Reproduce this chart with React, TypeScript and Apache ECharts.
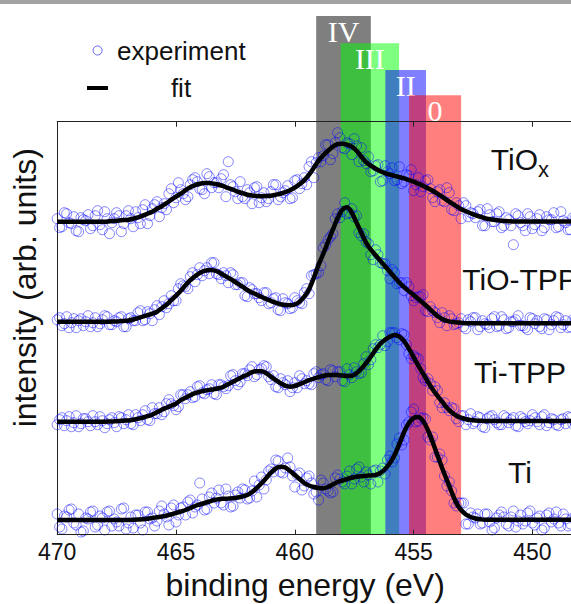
import React, { useEffect, useRef } from 'react';
import * as echarts from 'echarts';

// binding energies of the measured points (eV), two interleaved sweeps
const ENERGY_A = [
  470, 469.8, 469.6, 469.4, 469.2, 469, 468.8, 468.6, 468.4, 468.2,
  468, 467.8, 467.6, 467.4, 467.2, 467, 466.8, 466.6, 466.4, 466.2,
  466, 465.8, 465.6, 465.4, 465.2, 465, 464.8, 464.6, 464.4, 464.2,
  464, 463.8, 463.6, 463.4, 463.2, 463, 462.8, 462.6, 462.4, 462.2,
  462, 461.8, 461.6, 461.4, 461.2, 461, 460.8, 460.6, 460.4, 460.2,
  460, 459.8, 459.6, 459.4, 459.2, 459, 458.8, 458.6, 458.4, 458.2,
  458, 457.8, 457.6, 457.4, 457.2, 457, 456.8, 456.6, 456.4, 456.2,
  456, 455.8, 455.6, 455.4, 455.2, 455, 454.8, 454.6, 454.4, 454.2,
  454, 453.8, 453.6, 453.4, 453.2, 453, 452.8, 452.6, 452.4, 452.2,
  452, 451.8, 451.6, 451.4, 451.2, 451, 450.8, 450.6, 450.4, 450.2,
  450, 449.8, 449.6, 449.4, 449.2, 449, 448.8, 448.6, 448.4, 448.2,
];
const ENERGY_B = [
  469.9, 469.7, 469.5, 469.3, 469.1, 468.9, 468.7, 468.5, 468.3, 468.1,
  467.9, 467.7, 467.5, 467.3, 467.1, 466.9, 466.7, 466.5, 466.3, 466.1,
  465.9, 465.7, 465.5, 465.3, 465.1, 464.9, 464.7, 464.5, 464.3, 464.1,
  463.9, 463.7, 463.5, 463.3, 463.1, 462.9, 462.7, 462.5, 462.3, 462.1,
  461.9, 461.7, 461.5, 461.3, 461.1, 460.9, 460.7, 460.5, 460.3, 460.1,
  459.9, 459.7, 459.5, 459.3, 459.1, 458.9, 458.7, 458.5, 458.3, 458.1,
  457.9, 457.7, 457.5, 457.3, 457.1, 456.9, 456.7, 456.5, 456.3, 456.1,
  455.9, 455.7, 455.5, 455.3, 455.1, 454.9, 454.7, 454.5, 454.3, 454.1,
  453.9, 453.7, 453.5, 453.3, 453.1, 452.9, 452.7, 452.5, 452.3, 452.1,
  451.9, 451.7, 451.5, 451.3, 451.1, 450.9, 450.7, 450.5, 450.3, 450.1,
  449.9, 449.7, 449.5, 449.3, 449.1, 448.9, 448.7, 448.5, 448.3, 448.1,
];

// TiOx
const EXP_TIOX_A = [
  3, -5, 8, -2, -9, 4, 1, -7, 6, -3,
  10, -12, 3, 6, -2, 11, -5, 4, 12, -2,
  13, 20, 14, 12, 33, 24, 32, 22, 37, 44,
  33, 28, 45, 39, 34, 47, 60, 35, 23, 25,
  32, 18, 35, 24, 20, 30, 37, 25, 31, 23,
  41, 33, 44, 55, 44, 64, 66, 77, 68, 89,
  74, 79, 67, 76, 74, 58, 50, 56, 40, 56,
  48, 41, 55, 40, 46, 31, 44, 35, 42, 24,
  30, 21, 34, 12, 19, 3, 16, 9, 4, 12,
  -4, 7, 0, 10, -4, 2, -23, 6, -4, 8,
  -7, 3, -9, 5, 2, -6, 10, -1, -8, 4,
];
const EXP_TIOX_B = [
  -6, 9, -1, 5, -10, 2, 7, -4, 11, -8,
  3, -1, 9, -10, 6, 3, 10, -2, 17, 6,
  17, 5, 18, 28, 19, 39, 28, 25, 42, 40,
  32, 48, 34, 39, 43, 25, 37, 30, 40, 23,
  29, 34, 19, 29, 23, 37, 22, 29, 36, 24,
  42, 38, 37, 60, 59, 60, 77, 62, 79, 84,
  73, 78, 83, 60, 61, 65, 51, 57, 41, 50,
  54, 42, 38, 47, 52, 37, 30, 41, 33, 20,
  32, 20, 29, 11, 16, 19, 5, 8, 10, -4,
  13, 0, 8, -6, 4, -4, 8, -1, -9, 5,
  -3, 7, -6, 2, 9, -5, 1, -8, 4, -2,
];
const FIT_TIOX = [
  0, 0, 0, 0, 0, 0, 0, 0, 0, 0,
  0, 0.5, 0.8, 1.2, 1.6, 2, 3, 4.3, 6, 8,
  10, 13, 15.5, 18.5, 22, 25, 28, 31.5, 34.5, 36.5,
  38, 38.6, 38.6, 38, 37, 35.5, 33.5, 32, 30, 28.5,
  27, 26.3, 25.8, 25.5, 25.6, 26, 27, 28, 29.5, 31.5,
  34, 37.5, 41.5, 47, 54, 61, 66.5, 71, 75, 77.5,
  78, 77, 75, 71, 65, 59.5, 56, 53, 50.5, 48.5,
  47, 45.8, 44.6, 43.3, 41.7, 40, 38, 36, 33.5, 31,
  28, 25, 21.5, 18.5, 15.5, 12.5, 10.5, 8.5, 6.5, 5,
  3.5, 2.5, 1.8, 1.2, 0.8, 0.5, 0.3, 0.3, 0.3, 0.3,
  0.3, 0.3, 0.3, 0.3, 0.3, 0.3, 0.3, 0.3, 0.3, 0.3,
];

// TiO-TPP
const EXP_TIOTPP_A = [
  2, -4, 5, -1, -6, 3, 0, -5, 4, -2,
  6, -3, 1, 4, -5, 3, 1, 9, 1, 10,
  1, 16, 15, 14, 26, 21, 38, 35, 45, 40,
  54, 51, 48, 59, 47, 49, 39, 47, 37, 39,
  25, 32, 28, 21, 29, 19, 24, 11, 19, 13,
  24, 19, 29, 28, 47, 49, 74, 82, 88, 108,
  110, 108, 113, 106, 86, 80, 67, 72, 59, 58,
  43, 49, 39, 31, 35, 21, 25, 27, 10, 11,
  4, 9, -4, 3, -2, 3, -7, 0, 4, -5,
  -2, -6, 5, -4, 2, -6, 0, 6, -4, -8,
  3, 1, -7, 2, -3, 5, -6, 1, -5, 2,
];
const EXP_TIOTPP_B = [
  4, -2, -6, 3, 1, -4, 6, -1, -5, 2,
  5, -3, 0, 5, -5, 4, 1, 11, 2, 8,
  12, 7, 21, 18, 21, 33, 36, 33, 49, 47,
  46, 54, 59, 48, 43, 46, 49, 37, 39, 26,
  34, 28, 24, 29, 18, 23, 12, 23, 18, 14,
  21, 18, 33, 46, 48, 56, 77, 85, 103, 104,
  119, 109, 105, 89, 88, 78, 62, 67, 58, 51,
  52, 38, 39, 39, 26, 24, 25, 11, 15, 9,
  -1, 4, 6, -3, -1, -5, 2, 4, -8, 1,
  -3, 3, -5, 5, -7, 0, 2, -4, -6, 4,
  -2, -5, 3, -8, 1, 4, -3, -6, 2, -4,
];
const FIT_TIOTPP = [
  0, 0, 0, 0, 0, 0, 0, 0, 0, 0,
  0, 0, 0.1, 0.4, 0.8, 1.2, 2.2, 3.6, 5, 6.5,
  8, 10, 13.5, 17, 21.5, 26, 31, 36.5, 41.5, 45.5,
  48.7, 50.8, 51.7, 51.3, 49.5, 46.7, 44, 41.2, 38, 35,
  31.7, 29.2, 27, 24.7, 22.7, 20.7, 19, 17.4, 16.6, 16.5,
  17.2, 20, 25, 32.5, 44, 56.7, 68, 80, 92, 103.5,
  112, 114.5, 109, 99, 89, 79, 72, 66.5, 61, 55.5,
  50, 44.5, 39.2, 34.5, 30.5, 26.7, 22.7, 18.7, 14.5, 10,
  5.7, 2.8, 0.8, -0.2, -0.8, -1, -1.5, -1.5, -1.5, -1.5,
  -1.5, -1.5, -1.5, -1.5, -1.5, -1.5, -1.5, -1.5, -1.5, -1.5,
  -1.5, -1.5, -1.5, -1.5, -1.5, -1.5, -1.5, -1.5, -1.5, -1.5,
];

// Ti-TPP
const EXP_TITPP_A = [
  -3, 4, 1, -5, 6, -2, 3, -4, 0, 5,
  -6, 2, -1, 5, -2, 7, -3, 4, 7, 2,
  14, 8, 7, 18, 18, 12, 27, 23, 30, 25,
  36, 28, 33, 28, 37, 35, 36, 47, 37, 48,
  46, 55, 47, 53, 55, 42, 35, 43, 37, 30,
  39, 46, 38, 38, 48, 44, 48, 41, 51, 50,
  41, 53, 44, 50, 49, 65, 62, 77, 77, 76,
  89, 89, 82, 87, 68, 66, 63, 44, 43, 31,
  31, 14, 14, 14, 3, 6, -3, 8, 0, 4,
  -6, 5, 2, -3, 6, -1, 4, -5, 3, -2,
  7, 0, 5, -4, 3, -3, 2, -2, 4, -1,
];
const EXP_TITPP_B = [
  2, -4, 5, -1, -5, 3, 0, 6, -3, 1,
  -2, 4, -5, 4, 2, -2, 7, 1, 11, 1,
  8, 14, 10, 22, 16, 15, 27, 27, 24, 35,
  29, 32, 37, 27, 37, 33, 46, 41, 40, 48,
  52, 45, 52, 56, 45, 46, 34, 39, 41, 34,
  34, 43, 41, 37, 50, 47, 42, 52, 45, 50,
  40, 47, 54, 48, 58, 57, 73, 74, 86, 80,
  89, 84, 88, 77, 63, 64, 53, 41, 38, 35,
  19, 19, 11, 13, 0, 6, 2, -2, 5, -5,
  3, 6, -1, -3, 4, 2, -4, 5, 0, 1,
  4, -3, 7, -1, 2, -4, 3, 5, -2, 2,
];
const FIT_TITPP = [
  0, 0, 0, 0, 0, 0, 0, 0, 0, 0,
  0, 0.2, 0.4, 0.7, 1, 1.3, 2, 2.9, 4, 5.5,
  7, 9.5, 12, 14, 16, 18, 21.5, 24, 26.5, 28.5,
  30, 31, 31.8, 32.5, 33.4, 35, 37.5, 40, 42.5, 45,
  47, 49.5, 50.5, 50.5, 48.5, 45, 41.5, 38.5, 36, 35,
  35.7, 37.5, 39.5, 41.5, 43, 44.5, 45.8, 46.7, 46.8, 46.7,
  46.3, 45.7, 46, 48.5, 53, 58.5, 65, 72, 78, 82,
  85, 86.7, 85, 80.5, 73, 64.5, 56, 48, 40, 32.5,
  26, 20, 14, 9.5, 6, 4, 2.5, 1.7, 1.2, 1,
  0.8, 0.8, 0.8, 0.8, 0.8, 0.8, 0.8, 0.8, 0.8, 0.8,
  0.8, 0.8, 0.8, 0.8, 0.8, 0.8, 0.8, 0.8, 0.8, 0.8,
];

// Ti
const EXP_TI_A = [
  6, -9, 3, 11, -5, -12, 2, 8, -7, 4,
  -10, 9, 1, -6, 12, -3, -8, 5, -10, 8,
  2, -1, 14, 3, 12, -2, 12, 5, 20, 13,
  37, 10, 23, 17, 30, 15, 24, 14, 28, 31,
  21, 29, 23, 43, 40, 51, 60, 48, 52, 53,
  33, 47, 34, 44, 26, 20, 37, 29, 28, 45,
  38, 44, 36, 51, 43, 48, 36, 50, 49, 46,
  64, 62, 82, 80, 98, 111, 99, 102, 83, 83,
  63, 60, 34, 29, 14, 17, -4, 7, 2, -4,
  6, -2, -8, 5, 3, -6, 9, -1, -4, 7,
  -3, 2, -10, 5, -2, 8, -6, 1, -4, 3,
];
const EXP_TI_B = [
  -7, 4, 10, -3, 6, -11, 1, 9, -5, 2,
  8, -6, -2, 11, -9, 3, 5, -3, 8, 1,
  -6, 9, 6, -5, 15, 5, 13, 18, 7, 15,
  21, 11, 27, 22, 17, 31, 13, 25, 22, 30,
  22, 39, 35, 31, 49, 48, 59, 47, 62, 44,
  45, 30, 42, 37, 28, 40, 31, 27, 42, 41,
  36, 49, 41, 53, 38, 45, 49, 38, 52, 60,
  58, 76, 75, 95, 108, 98, 102, 101, 80, 63,
  66, 44, 38, 17, 17, 17, -4, 3, 6, -3,
  6, -10, 2, 8, -4, 3, -7, 5, -1, 9,
  -5, 4, -8, 7, 1, -3, 6, -6, 2, -2,
];
const FIT_TI = [
  0, 0, 0, 0, 0, 0, 0, 0, 0, 0,
  0, 0, 0, 0, 0, 0, 0.2, 0.4, 0.8, 1.3,
  2, 2.8, 3.5, 4.5, 5.5, 7, 8.5, 10, 12, 14,
  15.5, 17, 18.5, 20, 20.8, 21.2, 21.5, 21.8, 22.5, 23.5,
  25, 28, 32, 36.7, 42, 47.5, 51.5, 53.3, 52.5, 49,
  45, 41, 37, 34.5, 33, 32, 31.7, 33, 35.5, 38,
  39.5, 41, 42.3, 43.3, 43.8, 44.2, 44.6, 45, 47, 51,
  56.7, 65, 76, 88, 97, 102, 103, 99, 90, 78,
  65, 52, 40, 28, 17, 10, 5.5, 3, 1.5, 0.7,
  0.2, 0.2, 0.2, 0.2, 0.2, 0.2, 0.2, 0.2, 0.2, 0.2,
  0.2, 0.2, 0.2, 0.2, 0.2, 0.2, 0.2, 0.2, 0.2, 0.2,
];

// vertical offsets of the stacked spectra (arb. units)
const SPECTRA = ['TiOx', 'TiO-TPP', 'Ti-TPP', 'Ti'];
const OFFSETS = [313, 213, 113, 14.7];
const LABEL_MAIN = ['TiO', 'TiO-TPP', 'Ti-TPP', 'Ti'];
const LABEL_SUB = ['x', '', '', ''];
const LABEL_ENERGY = 450.52;
const LABEL_LEVEL = [375.4, 255.4, 162.1, 62.1];

// oxidation state bands (eV)
const BAND_NAMES = ['IV', 'III', 'II', '0'];
const BAND_START = [459.1, 458.07, 456.19, 455.19];
const BAND_END = [456.8, 455.61, 454.48, 453.0];
const BAND_TOP = [518.7, 491.4, 464.7, 439.4];
const BAND_COLORS = ['rgba(0,0,0,0.5)', 'rgba(0,255,0,0.5)', 'rgba(0,0,255,0.5)', 'rgba(255,0,0,0.5)'];

const X_MIN = 445;
const X_MAX = 470;
const X_STEP = 5;
const Y_MIN = 0;
const Y_MAX = 413;

const SANS = '"Liberation Sans", Arial, sans-serif';
const SERIF = '"Liberation Serif", "Times New Roman", serif';

export default function App() {
  const ref = useRef<HTMLDivElement>(null);

  useEffect(() => {
    if (!ref.current) return;
    const chart = echarts.init(ref.current, null, { renderer: 'svg' });

    const spectra = [
      { expA: EXP_TIOX_A, expB: EXP_TIOX_B, fit: FIT_TIOX },
      { expA: EXP_TIOTPP_A, expB: EXP_TIOTPP_B, fit: FIT_TIOTPP },
      { expA: EXP_TITPP_A, expB: EXP_TITPP_B, fit: FIT_TITPP },
      { expA: EXP_TI_A, expB: EXP_TI_B, fit: FIT_TI },
    ];

    const series: any[] = [];

    series.push({
      type: 'custom',
      name: 'bands',
      silent: true,
      clip: false,
      z: 1,
      encode: { x: [0, 1], y: 2 },
      data: BAND_NAMES.map((n, i) => [BAND_START[i], BAND_END[i], BAND_TOP[i], i]),
      renderItem: (params: any, api: any) => {
        const idx = api.value(3);
        const p1 = api.coord([api.value(0), Y_MIN]);
        const p2 = api.coord([api.value(1), api.value(2)]);
        const x = Math.min(p1[0], p2[0]);
        const w = Math.abs(p2[0] - p1[0]);
        const y = p2[1];
        const h = p1[1] - p2[1];
        return {
          type: 'group',
          children: [
            { type: 'rect', shape: { x, y, width: w, height: h }, style: { fill: BAND_COLORS[idx] } },
            {
              type: 'text',
              style: {
                text: BAND_NAMES[idx],
                x: x + w / 2,
                y: y + 15,
                align: 'center',
                verticalAlign: 'middle',
                fill: '#ffffff',
                fontSize: 30,
                fontFamily: SERIF,
              },
            },
          ],
        };
      },
    });

    spectra.forEach((s, i) => {
      const pts = ENERGY_A.map((e, k) => [e, OFFSETS[i] + s.expA[k]]).concat(
        ENERGY_B.map((e, k) => [e, OFFSETS[i] + s.expB[k]])
      );
      series.push({
        type: 'scatter',
        name: 'experiment',
        silent: true,
        z: 3,
        symbol: 'circle',
        symbolSize: 10,
        itemStyle: { color: 'rgba(0,0,0,0)', borderColor: 'rgba(0,0,255,0.6)', borderWidth: 1 },
        data: pts,
      });
    });
    spectra.forEach((s, i) => {
      series.push({
        type: 'line',
        name: 'fit',
        silent: true,
        z: 4,
        showSymbol: false,
        smooth: 0.3,
        lineStyle: { color: '#000000', width: 4.5 },
        data: ENERGY_A.map((e, k) => [e, OFFSETS[i] + s.fit[k]]),
      });
    });

    series.push({
      type: 'custom',
      name: 'labels',
      silent: true,
      clip: false,
      z: 5,
      encode: { x: 0, y: 1 },
      data: SPECTRA.map((n, i) => [LABEL_ENERGY, LABEL_LEVEL[i], i]),
      renderItem: (params: any, api: any) => {
        const idx = api.value(2);
        const p = api.coord([api.value(0), api.value(1)]);
        const main = LABEL_MAIN[idx];
        const sub = LABEL_SUB[idx];
        const base = { fill: '#111111', fontFamily: SANS };
        if (sub) {
          return {
            type: 'group',
            children: [
              { type: 'text', style: { ...base, text: main, x: p[0] + 18, y: p[1], align: 'right', verticalAlign: 'middle', fontSize: 30 } },
              { type: 'text', style: { ...base, text: sub, x: p[0] + 18, y: p[1] + 10, align: 'left', verticalAlign: 'middle', fontSize: 22 } },
            ],
          };
        }
        return {
          type: 'text',
          style: { ...base, text: main, x: p[0], y: p[1], align: 'center', verticalAlign: 'middle', fontSize: 30 },
        };
      },
    });

    const axisLineStyle = { color: '#222222', width: 1 };

    chart.setOption({
      animation: false,
      backgroundColor: '#ffffff',
      grid: { left: 57.2, top: 121.7, bottom: 69.3, right: -80.2, containLabel: false, outerBoundsMode: 'none' },
      xAxis: [
        {
          type: 'value',
          position: 'bottom',
          min: X_MIN,
          max: X_MAX,
          interval: X_STEP,
          inverse: true,
          z: 6,
          axisLine: { show: true, lineStyle: axisLineStyle },
          axisTick: { show: true, inside: true, length: 5, lineStyle: axisLineStyle },
          axisLabel: { fontSize: 23, color: '#111111', fontFamily: SANS, margin: 6, showMinLabel: false },
          splitLine: { show: false },
          name: 'binding energy (eV)',
          nameLocation: 'middle',
          nameGap: 34,
          nameTextStyle: { fontSize: 32, color: '#111111', fontFamily: SANS, padding: [0, 98, 0, 0] },
        },
        {
          type: 'value',
          position: 'top',
          min: X_MIN,
          max: X_MAX,
          interval: X_STEP,
          inverse: true,
          z: 6,
          axisLine: { show: true, lineStyle: axisLineStyle },
          axisTick: { show: true, inside: true, length: 5, lineStyle: axisLineStyle },
          axisLabel: { show: false },
          splitLine: { show: false },
        },
      ],
      yAxis: {
        type: 'value',
        min: Y_MIN,
        max: Y_MAX,
        axisLine: { show: true, lineStyle: axisLineStyle },
        axisTick: { show: false },
        axisLabel: { show: false },
        splitLine: { show: false },
        name: 'intensity (arb. units)',
        nameLocation: 'middle',
        nameRotate: 90,
        nameGap: 16,
        nameTextStyle: { fontSize: 32, color: '#111111', fontFamily: SANS, padding: [0, 0, 0, 81] },
      },
      graphic: [
        { type: 'rect', shape: { x: 0, y: 0, width: 571, height: 4 }, style: { fill: '#a3a3a3' } },
        { type: 'circle', shape: { cx: 97.6, cy: 50.5, r: 4.5 }, style: { fill: 'rgba(0,0,0,0)', stroke: 'rgba(0,0,255,0.6)', lineWidth: 1 } },
        { type: 'text', x: 117, y: 51, style: { text: 'experiment', fontSize: 26, fontFamily: SANS, fill: '#111111', verticalAlign: 'middle' } },
        { type: 'line', shape: { x1: 87, y1: 88, x2: 108, y2: 88 }, style: { stroke: '#000000', lineWidth: 4 } },
        { type: 'text', x: 181, y: 87.5, style: { text: 'fit', fontSize: 26, fontFamily: SANS, fill: '#111111', align: 'center', verticalAlign: 'middle' } },
      ],
      series,
    });

    return () => chart.dispose();
  }, []);

  return <div ref={ref} style={{ position: 'fixed', left: 0, top: 0, width: 571, height: 604 }} />;
}
